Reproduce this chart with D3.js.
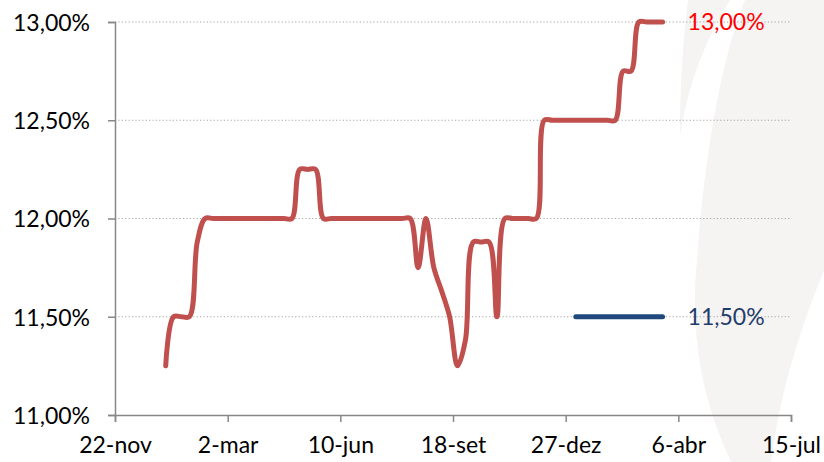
<!DOCTYPE html>
<html lang="pt">
  <head>
    <meta charset="UTF-8" />
    <title>Selic - expectativas</title>
    <style>
      body { margin: 0; background: #fff; }
      svg text { font-family: Lato, "Open Sans", sans-serif; }
    </style>
  </head>
  <body>
    <script src="https://cdn.jsdelivr.net/npm/d3@7"></script>
    <script>
    // weekly readings, first one on 6-jan-2014
    var firstWeek = "2014-01-06";
    var expectativa = [
      11.25, 11.50, 11.50, 11.50, 11.88,
      12.00, 12.00, 12.00, 12.00, 12.00, 12.00, 12.00, 12.00, 12.00, 12.00, 12.00, 12.00,
      12.25, 12.25, 12.25,
      12.00, 12.00, 12.00, 12.00, 12.00, 12.00, 12.00, 12.00, 12.00, 12.00, 12.00, 12.00,
      11.75, 12.00, 11.75, 11.63, 11.50, 11.25, 11.38,
      11.88, 11.88, 11.88, 11.50,
      12.00, 12.00, 12.00, 12.00, 12.00,
      12.50, 12.50, 12.50, 12.50, 12.50, 12.50, 12.50, 12.50, 12.50, 12.50,
      12.75, 12.75,
      13.00, 13.00, 13.00, 13.00
    ];
    // flat reference line (weeks 52 to 63)
    var metaWeeks = [52, 63];
    var metaValue = 11.50;

    var xTicks = ["2013-11-22", "2014-03-02", "2014-06-10", "2014-09-18", "2014-12-27", "2015-04-06", "2015-07-15"];
    var yTicks = [11.0, 11.5, 12.0, 12.5, 13.0];
    var meses = ["jan", "fev", "mar", "abr", "mai", "jun", "jul", "ago", "set", "out", "nov", "dez"];

    var width = 824;
    var height = 462;
    var margin = { top: 22, right: 33, bottom: 47, left: 115 };

    var parse = d3.timeParse("%Y-%m-%d");
    var start = parse(firstWeek);
    var tickDates = xTicks.map(parse);

    var serie = expectativa.map(function(v, i) {
      return { date: d3.timeDay.offset(start, i * 7), value: v };
    });
    var meta = metaWeeks.map(function(w) {
      return { date: d3.timeDay.offset(start, w * 7), value: metaValue };
    });

    var xScale = d3.scaleTime()
      .domain([tickDates[0], tickDates[tickDates.length - 1]])
      .range([margin.left, width - margin.right]);

    var yScale = d3.scaleLinear()
      .domain([11, 13])
      .range([height - margin.bottom, margin.top]);

    var svg = d3.select("body").append("svg")
      .attr("width", width)
      .attr("height", height);

    // faint watermark on the right
    svg.append("path")
      .attr("d", "M688,0 L730,0 C705,40 688,85 680,135 C680,85 683,40 688,0 Z")
      .style("fill", "#f6f3f3");
    svg.append("path")
      .attr("d", "M745,0 L824,0 L824,270 C800,330 780,390 770,470 L735,470 C700,400 690,330 697,260 C703,170 720,60 745,0 Z")
      .style("fill", "#f6f3f3");

    // gridlines
    svg.append("g")
      .selectAll("line")
      .data(yTicks.slice(1))
      .enter()
      .append("line")
      .attr("x1", margin.left)
      .attr("x2", width - margin.right)
      .attr("y1", function(d) { return yScale(d); })
      .attr("y2", function(d) { return yScale(d); })
      .style("stroke", "#a6a6a6")
      .style("stroke-width", 1.2)
      .style("stroke-dasharray", "1.2,2.2");

    var fmtPct = function(d) { return d.toFixed(2).replace(".", ",") + "%"; };
    var fmtDate = function(d) { return d.getDate() + "-" + meses[d.getMonth()]; };

    var yAxis = d3.axisLeft(yScale)
      .tickValues(yTicks)
      .tickSize(7)
      .tickPadding(18)
      .tickFormat(fmtPct);

    var xAxis = d3.axisBottom(xScale)
      .tickValues(tickDates)
      .tickSize(7)
      .tickPadding(13)
      .tickFormat(fmtDate);

    var gy = svg.append("g")
      .attr("transform", "translate(" + margin.left + ",0)")
      .call(yAxis);

    var gx = svg.append("g")
      .attr("transform", "translate(0," + (height - margin.bottom) + ")")
      .call(xAxis);

    [gx, gy].forEach(function(g) {
      g.select(".domain").style("stroke", "#878787").style("stroke-width", 1.5);
      g.selectAll(".tick line").style("stroke", "#878787").style("stroke-width", 1.5);
      g.selectAll(".tick text").style("font-size", "23px").style("fill", "#000");
    });
    gy.selectAll(".tick text").attr("dy", "0.36em");
    gx.selectAll(".tick text").attr("dy", "0.8em");

    var line = d3.line()
      .x(function(d) { return xScale(d.date); })
      .y(function(d) { return yScale(d.value); })
      .curve(d3.curveCatmullRom.alpha(0.5));

    svg.append("path")
      .datum(serie)
      .attr("d", line)
      .style("fill", "none")
      .style("stroke", "#c0504d")
      .style("stroke-width", 5)
      .style("stroke-linejoin", "round")
      .style("stroke-linecap", "round");

    svg.append("path")
      .datum(meta)
      .attr("d", line)
      .style("fill", "none")
      .style("stroke", "#1f497d")
      .style("stroke-width", 5)
      .style("stroke-linecap", "round");

    // end labels
    var last = serie[serie.length - 1];
    svg.append("text")
      .attr("x", xScale(last.date) + 25)
      .attr("y", yScale(last.value))
      .attr("dy", "0.36em")
      .style("font-size", "23px")
      .style("fill", "#ff0000")
      .text(fmtPct(last.value));

    svg.append("text")
      .attr("x", xScale(meta[1].date) + 25)
      .attr("y", yScale(metaValue))
      .attr("dy", "0.36em")
      .style("font-size", "23px")
      .style("fill", "#1f3d6b")
      .text(fmtPct(metaValue));
    </script>
  </body>
</html>
